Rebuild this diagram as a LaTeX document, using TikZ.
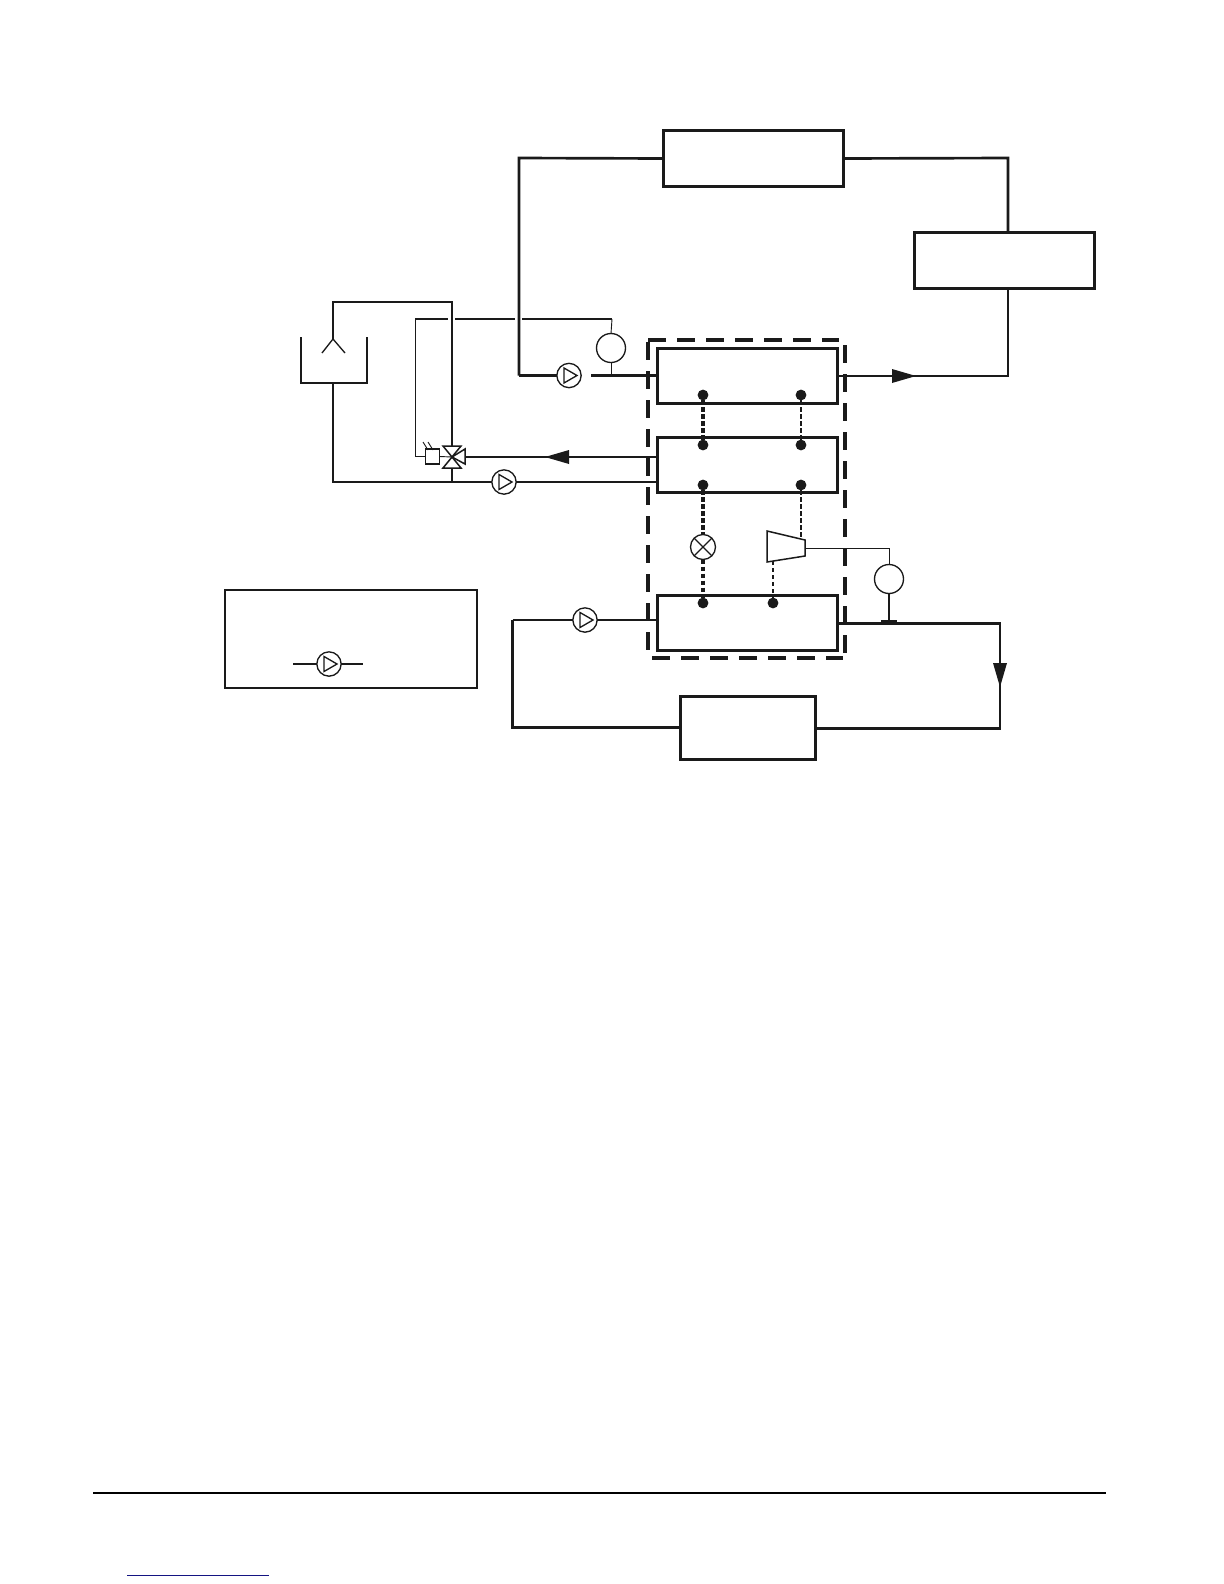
\documentclass[tikz,border=0pt]{standalone}
\usetikzlibrary{calc}
\definecolor{ink}{HTML}{1A1A1A}
\tikzset{
  px/.style 2 args={minimum width=#1*0.6pt,minimum height=#2*0.6pt},
  unitbox/.style={draw=ink,line width=1.8pt,fill=white,inner sep=0pt,outer sep=0pt,rectangle},
  legendbox/.style={draw=ink,line width=1.3pt,inner sep=0pt,outer sep=0pt,rectangle},
  pipe/.style={draw=ink,line width=1.6pt},
  thin line/.style={draw=ink,line width=0.55pt},
  envelope/.style={draw=ink,line width=2.2pt,dash pattern=on 10.8pt off 6.6pt},
  linkthick/.style={draw=ink,line width=2.1pt,dash pattern=on 2.6pt off 1.6pt},
  linkthin/.style={draw=ink,line width=1.3pt,dash pattern=on 2.6pt off 1.6pt},
  portdot/.style={circle,fill=ink,minimum size=6.5pt,inner sep=0pt,outer sep=0pt},
  pumpbody/.style={circle,draw=ink,line width=0.8pt,fill=white,minimum size=14.6pt,inner sep=0pt,outer sep=0pt},
  motor/.style={circle,draw=ink,line width=0.8pt,fill=white,minimum size=17.4pt,inner sep=0pt,outer sep=0pt},
  expvalve/.style={circle,draw=ink,line width=0.8pt,fill=white,minimum size=15pt,inner sep=0pt,outer sep=0pt},
  flowtip/.style={fill=ink,draw=none},
  symbol/.style={draw=ink,line width=0.8pt,line join=miter},
}
\newcommand{\pumpsym}[3]{%
  \node[pumpbody] (#1) at (#2,#3) {};
  \draw[symbol] ($(#1)+(-5,-7.5)$) -- ($(#1)+(-5,7.5)$) -- ($(#1)+(8,0)$) -- cycle;
}
\begin{document}
\begin{tikzpicture}[x=0.6pt,y=-0.6pt]
\useasboundingbox (0,0) rectangle (1224,1584);
\fill[white] (0,0) rectangle (1224,1584);

\coordinate (topright) at (1008,158);
\coordinate (topleft) at (519,158);
\coordinate (pumpinlet) at (519,375.5);
\coordinate (outcorner) at (1008,376);
\coordinate (tankTop) at (333,302);
\coordinate (teeTop) at (452,302);
\coordinate (tee) at (452,482);
\coordinate (tankLow) at (333,482);
\coordinate (cOut) at (837,623.5);
\coordinate (cCorner) at (1000,623.5);
\coordinate (dCornerR) at (1000,728.5);
\coordinate (dCornerL) at (512.5,727.5);
\coordinate (cInCorner) at (512.5,620);

% Boxes
\node[unitbox,px={180}{56}] (top) at (753,158.5) {};
\node[unitbox,px={180}{56}] (right) at (1004.5,260.5) {};
\node[unitbox,px={180}{55}] (A) at (747,376) {};
\node[unitbox,px={180}{55}] (B) at (747,465) {};
\node[unitbox,px={180}{55}] (C) at (747,623) {};
\node[unitbox,px={135}{63}] (D) at (748,727.5) {};
\node[legendbox,px={252}{98}] (legend) at (351,639) {};

% Cooling-circuit pipes
\draw[pipe] (top.west) -- (topleft) -- (pumpinlet);
\draw[pipe] (top.east) -- (topright) -- (right.north -| topright);
\draw[pipe] (right.south -| outcorner) -- (outcorner) -- (A.east);
\pumpsym{P1}{569}{375.5}
\draw[pipe] (pumpinlet) -- (P1.west);
\coordinate (P1out) at (591,375.5);
\draw[pipe] (P1out) -- (P1out -| A.west);

% Tank
\coordinate (tankTL) at (301,337);
\coordinate (tankTR) at (367,337);
\coordinate (tankBL) at (301,383);
\coordinate (tankBR) at (367,383);
\coordinate (tankBot) at (333,383);
\coordinate (apex) at (333,339);
\coordinate (armL) at (322,353);
\coordinate (armR) at (345,353);
\draw[draw=ink,line width=0.8pt] (tankTL) -- (tankBL) -- (tankBR) -- (tankTR);
\draw[draw=ink,line width=0.8pt] (armL) -- (apex) -- (armR);
\draw[pipe] (apex) -- (tankTop) -- (teeTop) -- (452,457);
\draw[pipe] (tankBot) -- (tankLow) -- (tee);
\draw[pipe] (452,457) -- (tee);
\pumpsym{P2}{504}{482}
\draw[pipe] (tee) -- (P2.west);
\draw[pipe] (P2.east) -- (P2.east -| B.west);

% Three-way valve
\coordinate (valve) at (452,457);
\fill[white] (443,446) rectangle (465,468);
\draw[symbol,line width=0.9pt] (443,446) -- (461,446) -- (valve) -- cycle;
\draw[symbol,line width=0.9pt] (443,468) -- (461,468) -- (valve) -- cycle;
\draw[symbol,line width=0.9pt] (465,449) -- (465,464) -- (valve) -- cycle;
\draw[pipe] (465,457) -- (465,457 -| B.west);
\fill[flowtip] (545,457) -- (569,450) -- (569,464) -- cycle;

% Solenoid actuator and signal line
\node[draw=ink,line width=0.7pt,fill=white,px={14}{15},inner sep=0pt,outer sep=0pt,rectangle] (sol) at (432.5,456.5) {};
\draw[thin line] (sol.east) -- (valve);
\draw[thin line] (sol.west) -- (415.5,456.5) -- (415.5,319);
\draw[thin line] (423,442) -- (428,450);
\draw[thin line] (428,442) -- (433,450);
\draw[draw=ink,line width=1.1pt] (415,319) -- (448,319);
\draw[draw=ink,line width=1.1pt] (455,319) -- (515,319);
\draw[draw=ink,line width=1.1pt] (522,319) -- (612,319);
\node[motor] (M1) at (611,348) {};
\draw[thin line] (612,319) -- (M1.north);
\draw[thin line] (M1.south) -- (611,375);

% Linked ports
\node[portdot] (a1) at (703,395) {};
\node[portdot] (a2) at (801,395) {};
\node[portdot] (b1) at (703,445) {};
\node[portdot] (b2) at (801,445) {};
\node[portdot] (b3) at (703,485) {};
\node[portdot] (b4) at (801,485) {};
\node[portdot] (c1) at (703,603) {};
\node[portdot] (c2) at (773,603) {};
\node[expvalve] (ev) at (703,547) {};
\draw[symbol] ($(ev)+(-8.8,-8.8)$) -- ($(ev)+(8.8,8.8)$);
\draw[symbol] ($(ev)+(-8.8,8.8)$) -- ($(ev)+(8.8,-8.8)$);
\coordinate (compR) at (805,548);
\coordinate (compTop) at (801,539);
\coordinate (compBot) at (773,561);
\draw[symbol,line width=0.9pt] (767,531) -- (805,540) -- (805,556) -- (767,562) -- cycle;
\draw[linkthick] (a1) -- (b1);
\draw[linkthin] (a2) -- (b2);
\draw[linkthick] (b3) -- (ev.north);
\draw[linkthick] (ev.south) -- (c1);
\draw[linkthin] (b4) -- (compTop);
\draw[linkthin] (compBot) -- (c2);

% Compressor motor
\coordinate (mTop) at (889,548);
\coordinate (mBar) at (889,621);
\node[motor] (M2) at (889,579) {};
\draw[thin line] (compR) -- (mTop) -- (M2.north);
\draw[thin line,line width=0.8pt] (M2.south) -- (mBar);
\fill[ink] (881,620) rectangle (897,623.5);

% Evaporator circuit
\draw[pipe] (cOut) -- (cCorner) -- (dCornerR) -- (dCornerR -| D.east);
\draw[pipe] (D.west |- dCornerL) -- (dCornerL) -- (cInCorner);
\pumpsym{P3}{585}{620}
\draw[pipe] (cInCorner) -- (P3.west);
\draw[pipe] (P3.east) -- (P3.east -| C.west);

% Flow arrows
\fill[flowtip] (892,369) -- (892,383) -- (916,376) -- cycle;
\fill[flowtip] (993,663) -- (1007,663) -- (1000,687) -- cycle;

% Enclosure
\coordinate (eTL) at (648,340);
\coordinate (eTR) at (839,340);
\coordinate (eLT) at (648,342);
\coordinate (eLB) at (648,652);
\coordinate (eRT) at (845,345);
\coordinate (eRB) at (845,654);
\coordinate (eBL) at (652,658);
\coordinate (eBR) at (843,658);
\draw[envelope] (eTL) -- (eTR);
\draw[envelope] (eLT) -- (eLB);
\draw[envelope] (eRT) -- (eRB);
\draw[envelope] (eBL) -- (eBR);

% Legend
\coordinate (lgL) at (293,664);
\coordinate (lgR) at (363,664);
\pumpsym{P4}{329}{664}
\draw[pipe] (lgL) -- (P4.west);
\draw[pipe] (P4.east) -- (lgR);

% Page furniture
\coordinate (ruleL) at (93,1493);
\coordinate (ruleR) at (1106,1493);
\draw[black,line width=1.3pt] (ruleL) -- (ruleR);
\coordinate (linkL) at (127,1575);
\coordinate (linkR) at (269,1575);
\draw[color={rgb,255:red,20;green,20;blue,130},line width=0.6pt] (linkL) -- (linkR);
\end{tikzpicture}
\end{document}
